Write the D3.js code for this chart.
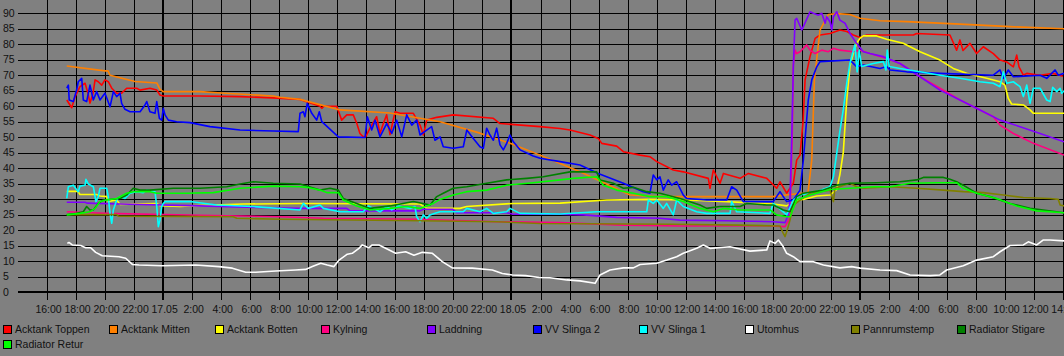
<!DOCTYPE html>
<html>
<head>
<meta charset="utf-8">
<script src="https://cdn.jsdelivr.net/npm/d3@7"></script>
<style>
  html, body { margin: 0; padding: 0; background: #808080; }
  svg { display: block; }
  text { font-family: "Liberation Sans", Arial, sans-serif; font-size: 10.5px; fill: #111; }
</style>
</head>
<body>
<svg id="chart" width="1064" height="356"></svg>
<script>
// ---- Data (time = hours since 16.05 14:00, value = °C) ----
const seriesNames = ["Acktank Toppen", "Acktank Mitten", "Acktank Botten", "Kylning", "Laddning",
  "VV Slinga 2", "VV Slinga 1", "Utomhus", "Pannrumstemp", "Radiator Stigare", "Radiator Retur"];
const seriesColors = ["#ff0000", "#ff8000", "#ffff00", "#ff0080", "#8000ff",
  "#0000ff", "#00ffff", "#ffffff", "#808000", "#008000", "#00ff00"];

const yTicks = [0, 5, 10, 15, 20, 25, 30, 35, 40, 45, 50, 55, 60, 65, 70, 75, 80, 85, 90];
const xTickHours = d3.range(2, 73, 2);
const dayLabels = ["17.05", "18.05", "19.05"];
const startHourOfDay = 14;

const acktankToppen = [[3.36,62],[3.70,59.5],[3.93,63],[4.27,66.3],[4.62,67.4],[4.82,64.2],[4.96,61],[5.17,64.2],[5.31,68.5],[5.53,67.9],[5.77,66.8],[5.99,68.5],[6.22,67.9],[6.46,65.8],[6.80,64.2],[7.14,64.2],[7.49,65.8],[8.18,65.8],[8.41,65.2],[9.09,65.8],[9.56,65.2],[9.78,63.6],[10.01,63.3],[12.54,63.3],[15.30,63.1],[17.57,62.7],[19.43,62.2],[20.81,60],[20.93,59.3],[21.08,60],[21.96,60],[22.30,55.5],[22.65,57.2],[23.10,57.2],[23.34,54.5],[23.56,51.2],[23.79,50.1],[23.98,50.3],[24.25,52.9],[24.71,56.6],[24.94,51.2],[25.17,54.4],[25.40,57.2],[25.63,50.8],[25.98,58.2],[26.32,57.7],[27.24,57.7],[27.70,53.9],[27.93,50.7],[28.16,55.5],[28.85,56.4],[29.99,57.2],[32.75,56.1],[33.21,54.4],[35.97,53.4],[37.35,52.8],[38.03,52.3],[39.41,50.7],[39.98,49.6],[40.22,48],[41.25,47.1],[41.71,45.3],[42.86,44.2],[43.54,43.7],[44.01,42.1],[45.15,39.4],[45.84,38.8],[47.56,36.7],[47.68,33.5],[47.91,39.4],[48.37,35.1],[48.60,38.3],[49.75,36.7],[50.32,38.3],[51.59,36.7],[52.27,33.5],[52.50,35.6],[52.96,31.9],[53.42,35.1],[53.65,42.6],[53.88,44.2],[54.09,55],[54.23,68.5],[54.57,76],[54.92,81.9],[55.26,83],[55.95,83.5],[56.63,84.6],[57.10,84.1],[57.55,83],[58.01,82.2],[58.48,83],[61.69,83],[61.92,83.5],[64.21,83],[64.67,78.1],[64.90,81.4],[65.11,78],[65.59,80.3],[66.05,77],[66.51,79.2],[67.20,77],[67.66,74.9],[68.12,74.3],[68.58,72.7],[68.81,76.5],[68.97,72.7],[69.27,70],[69.50,70.6],[70.42,70],[71.33,70.6],[72.0,69.7]];

const acktankMitten = [[3.36,73],[5.99,71.4],[6.20,71.4],[6.34,70],[8.06,68],[9.56,67.5],[9.78,65.5],[9.99,64.7],[12.54,64.7],[14.26,64.2],[17.57,63.3],[18.05,62.9],[19.43,62.2],[22.19,58.8],[25.63,57.8],[29.08,55],[31.83,51.3],[33.90,48],[35.97,44.2],[37.35,41.5],[38.72,38.8],[39.96,36.2],[42.17,31.3],[44.03,30.8],[52.02,30.8],[53.19,31.5],[54.43,32],[54.69,42.6],[54.87,68.5],[55.26,84.6],[55.83,89.6],[56.43,89.9],[57.32,89.6],[58.01,88.4],[59.39,87.6],[61.23,87.3],[64.90,86.5],[68.35,85.7],[72.07,85]];

const acktankBotten = [[3.36,32.5],[4.13,32.5],[4.27,31.5],[5.42,31.5],[5.65,31],[6.11,30.8],[6.22,29.2],[6.80,29.7],[7.03,28.3],[9.56,28.6],[9.78,27.9],[11.16,27.6],[11.85,27.8],[15.52,28.4],[19.43,28.6],[27.70,28.4],[28.16,27],[30.45,27],[30.92,27.6],[34.13,28.6],[37.35,28.7],[40.56,29.7],[43.54,29.9],[46.07,29.7],[48.83,29.2],[52.04,28.4],[52.96,27.8],[53.65,29.7],[54.11,29.9],[55.03,31],[55.95,31.3],[56.41,33.1],[56.63,38],[56.86,45],[57.10,62],[57.32,72.8],[57.55,77],[57.78,80.3],[58.01,81.9],[58.24,82.7],[59.16,82.7],[59.85,81.6],[60.99,80.3],[62.15,77.6],[63.52,74.9],[64.44,72.2],[65.36,70.6],[66.74,69],[67.66,67.9],[68.00,66.8],[68.23,62.5],[68.46,60.7],[69.27,60.4],[69.73,58.8],[69.96,57.7],[72.07,57.7]];

const kylning = [[3.36,25.9],[4.96,25.6],[6.11,25.4],[12.54,24.8],[18.05,24.3],[21.04,23.8],[27.70,23.5],[32.98,22.7],[37.35,22.4],[41.71,21.6],[45.61,21.3],[51.59,21.4],[52.85,21.1],[53.19,24],[53.35,51.8],[53.42,73.3],[53.54,78.1],[53.65,77],[53.88,77.6],[54.34,79.8],[54.57,78.1],[54.92,77],[55.38,78.1],[55.83,77.6],[56.18,78.7],[56.63,78.1],[57.55,77.6],[58.01,78.1],[58.70,77],[59.85,75.4],[60.77,73.8],[62.15,69.5],[63.52,65.8],[64.90,62],[66.28,58.8],[67.20,56.6],[67.66,53.9],[68.58,51.2],[69.96,48],[72.07,44.2]];

const laddning = [[3.36,29],[4.62,29],[4.75,28.7],[7.03,28.4],[11.85,27.9],[17.36,27.2],[19.43,27],[22.65,27],[22.88,26.2],[27.70,26.2],[27.93,26.7],[29.97,26.7],[30.22,25.6],[33.67,25.6],[34.13,25.1],[37.35,25.1],[38.95,24.9],[41.25,24.1],[44.23,23.8],[45.61,23.2],[48.83,23],[52.04,22.7],[52.85,22.4],[53.08,25],[53.19,30],[53.31,50],[53.42,72.7],[53.54,87.8],[53.65,88.4],[54.00,84.6],[54.11,85.7],[54.57,90.5],[54.80,90],[55.15,89.4],[55.38,90],[55.61,86.8],[55.72,88.9],[55.95,87.2],[56.07,84.6],[56.18,88.9],[56.41,90.5],[56.63,87.8],[56.98,86.8],[57.32,83.5],[57.78,80.3],[58.24,77.6],[58.70,77],[59.62,76],[60.77,73.8],[62.15,69.5],[63.52,65.2],[64.90,62],[66.28,58.8],[67.66,55.5],[69.04,53.4],[70.42,51.2],[72.07,48.5]];

const vvSlinga2 = [[3.36,65.8],[3.47,66.8],[3.53,62],[3.81,61.5],[4.04,65.2],[4.15,67.9],[4.39,69],[4.50,62],[4.73,61.5],[4.96,66.8],[5.19,62],[5.42,64.7],[5.65,62],[5.99,64.2],[6.34,59.8],[6.57,64.7],[6.80,63.1],[7.03,64.2],[7.14,60.9],[7.37,59],[7.72,58.2],[8.41,58.2],[8.75,60.4],[8.87,61.5],[9.09,58.2],[9.44,57.7],[9.56,61.5],[9.74,56.1],[9.90,55.5],[10.01,59.3],[10.13,57.2],[10.36,55.5],[10.93,55],[11.85,54.7],[13.23,53.4],[15.30,52.3],[17.59,52],[19.31,51.8],[19.43,57.7],[19.66,58.2],[19.77,56.6],[19.93,60.9],[20.24,57.7],[20.58,55.5],[20.76,58.2],[20.93,55],[22.07,50.1],[23.91,49.9],[24.07,56.6],[24.37,52.3],[24.60,55.5],[24.94,50.1],[25.40,54.4],[25.75,51.2],[26.09,55.5],[26.44,50.1],[26.78,57.2],[27.13,53.9],[27.47,55.5],[27.70,50.7],[28.16,52.3],[28.50,53.4],[28.73,49],[29.08,50.1],[29.30,46.9],[29.99,46.4],[30.68,46.9],[30.92,52.3],[31.37,49.6],[31.83,46.9],[32.06,46.4],[32.29,52.9],[32.52,50.7],[32.75,49],[32.98,52.9],[33.21,47.5],[33.44,45.9],[33.67,48],[33.90,50.7],[34.13,48.5],[34.59,45.9],[35.50,43.9],[35.97,43.2],[37.35,42.1],[38.72,41],[39.98,38.3],[41.71,35.1],[43.08,32.4],[43.54,31.9],[43.77,37.8],[44.01,36.2],[44.23,37.2],[44.46,32.9],[44.80,36.2],[45.04,34.5],[45.38,35.6],[45.84,31.3],[46.07,30.2],[47.45,29.7],[48.83,29.7],[49.17,34],[49.52,32.9],[49.97,29.2],[52.04,29.2],[52.50,32.4],[52.96,29.2],[53.42,29.7],[53.88,32.9],[54.11,42.6],[54.45,62],[54.69,68.5],[55.03,72.7],[55.26,74.4],[57.32,74.9],[57.78,72.8],[58.24,73.3],[59.39,72.2],[59.85,72.8],[60.08,71.7],[61.23,71.1],[63.52,70.6],[67.20,70],[67.66,71.7],[67.89,69],[68.23,71.7],[68.58,69.5],[70.42,70],[70.88,69],[71.45,71.7],[71.68,70],[72.07,70.6]];

const vvSlinga1 = [[3.36,30.2],[3.47,34],[3.81,34.5],[4.15,32.4],[4.27,34.2],[4.62,34.5],[4.68,36.4],[4.84,34.9],[5.19,34],[5.37,29.2],[5.53,30.8],[5.65,33.5],[6.11,33.5],[6.22,30.8],[6.34,25.4],[6.46,22.2],[6.57,26.5],[6.80,29.7],[7.03,30.8],[7.37,30.2],[7.72,31.9],[8.18,32.4],[8.63,32.1],[8.87,32.9],[9.44,32.4],[9.56,27.6],[9.67,21.1],[9.78,23.2],[9.90,27.6],[10.01,28.6],[10.13,29.2],[11.85,29.2],[13.69,28.1],[16.21,27.6],[19.43,26.5],[19.66,28.6],[20.00,27],[20.81,28.1],[21.04,27],[22.19,25.9],[23.79,25.9],[24.14,27.8],[24.48,27],[24.94,25.9],[25.40,27.6],[25.75,26.5],[26.20,27.8],[27.01,27],[27.35,27.6],[27.47,24.3],[27.70,22.7],[27.93,24.9],[28.16,23.8],[28.39,24.9],[28.73,25.4],[29.08,25.9],[30.68,25.9],[30.92,27],[31.83,25.9],[32.29,27],[32.75,25.4],[33.67,25.9],[33.90,27],[34.59,25.4],[37.35,25.2],[39.87,25.9],[43.32,25.9],[43.43,29.7],[43.77,28.6],[44.01,29.7],[44.46,27],[44.69,28.6],[45.15,24.9],[45.38,29.7],[45.84,27.6],[46.76,25.9],[47.45,25.4],[49.06,25.4],[49.17,29.2],[49.52,25.9],[51.81,25.4],[52.04,28.6],[52.96,24.9],[53.42,29.7],[53.88,31.3],[55.03,32.4],[55.95,34],[56.18,37.2],[56.41,44.8],[56.63,52],[56.86,58.8],[57.10,67.4],[57.32,73.8],[57.66,79.8],[57.82,71.1],[57.96,78.1],[58.13,72.8],[58.93,73.8],[59.62,74.4],[59.80,71.7],[59.89,78.1],[60.03,72.8],[60.77,72.2],[62.15,71.1],[63.52,70],[64.90,69],[66.28,67.9],[67.20,67.4],[67.66,66.3],[67.89,71.1],[68.12,67.4],[68.58,67.9],[69.04,66.3],[69.27,63.1],[69.50,66.8],[69.73,60.9],[69.96,65.8],[70.42,65.8],[70.88,62],[71.11,61.5],[71.29,66.1],[71.57,64.7],[71.80,65.8],[71.91,64.2],[72.07,65]];

const utomhus = [[3.40,15.7],[3.51,16],[3.74,15.2],[4.32,15],[4.66,14.3],[5.01,14.3],[5.35,12.8],[5.81,11.7],[6.96,11.4],[7.42,10.9],[7.88,8.9],[8.34,8.7],[9.94,8.5],[12.24,8.7],[13.85,8.2],[14.77,7.7],[15.69,6.4],[16.38,6.4],[17.76,6.8],[19.13,7.1],[19.82,7.3],[20.28,8.2],[20.86,9.3],[21.31,8.7],[21.77,8.2],[22.12,10.3],[22.69,12.2],[23.03,12.5],[23.49,14.1],[23.72,15.2],[24.18,14.3],[24.41,15.2],[24.87,15.2],[25.33,14.1],[26.02,12.5],[26.71,13],[27.28,11.9],[27.86,12.8],[28.55,12.5],[29.23,9.8],[29.92,7.8],[31.30,7.7],[32.68,7.1],[33.37,6],[34.06,5.5],[34.98,5.3],[35.90,4.7],[36.65,4.6],[37.81,3.9],[38.72,3.6],[39.76,2.8],[40.10,5.5],[40.79,7.1],[41.71,7.8],[42.40,7.8],[42.86,8.9],[44.01,9.3],[44.70,10.3],[45.38,11.4],[45.84,12.5],[46.76,14.1],[47.22,15.2],[47.68,14.1],[49.06,14.6],[49.75,13.9],[50.43,13.2],[51.59,13.6],[51.81,16.5],[52.16,15.7],[52.39,16.8],[52.73,14.6],[52.96,12.5],[53.42,11.4],[53.88,9.8],[54.80,9.8],[55.49,8.7],[56.63,7.8],[57.44,8.2],[58.01,7.7],[59.39,7.1],[60.54,6.9],[61.46,5.5],[62.84,5.3],[63.52,5.5],[63.98,7.1],[65.13,8.5],[66.05,10.3],[67.20,11.4],[67.66,13],[68.35,15],[69.27,15.2],[69.61,16.2],[70.19,15.2],[70.65,16.8],[71.11,16.8],[72.07,16.5]];

const pannrumstemp = [[3.36,25],[6.80,25],[6.91,24.5],[14.83,24.3],[15.07,23.8],[18.05,23.5],[27.70,23],[32.98,22.7],[35.97,22.1],[45.15,21.9],[49.75,21.6],[52.50,21.3],[52.73,18.9],[52.85,17.9],[53.00,20],[53.19,23.2],[53.42,28.1],[54.57,31.9],[55.95,32.9],[56.18,29.2],[56.29,33.5],[57.32,35.1],[57.78,34],[58.24,33.5],[60.08,34],[61.92,33.5],[63.76,32.9],[65.13,32.4],[66.51,32.1],[67.89,31.3],[69.27,30.5],[71.11,30.2],[71.68,29.9],[71.80,28.1],[72.07,27.8]];

const radiatorStigare = [[3.36,24.9],[4.04,25.4],[4.50,25.9],[4.73,27.6],[4.96,26.5],[5.19,26.5],[5.53,28.6],[5.88,29.7],[7.03,30.2],[7.49,31.3],[7.94,33.5],[8.41,32.9],[9.09,32.9],[10.70,33.5],[12.54,33.5],[14.38,34],[15.30,34.9],[16.21,35.6],[17.59,35.1],[19.43,34.9],[19.89,34.2],[20.81,32.9],[21.50,33.5],[22.07,32.9],[22.41,30.2],[23.34,28.6],[24.25,27],[25.63,27.8],[27.24,29.2],[28.39,28.1],[28.85,30.8],[29.30,31.9],[29.99,33.5],[30.92,34],[32.29,35.1],[33.67,36.2],[35.05,36.7],[36.19,37.2],[38.03,38.8],[39.87,38.8],[40.10,36.2],[41.02,35.1],[41.71,33.5],[42.40,33.8],[43.32,32.4],[44.23,31.9],[45.61,30.2],[46.99,28.1],[47.45,27],[48.37,27.6],[49.75,27.6],[50.21,28.6],[51.59,28.1],[52.04,28.1],[52.73,26.5],[53.19,25.9],[53.65,30.8],[54.11,31.9],[55.49,32.9],[56.41,34.5],[57.32,35.1],[59.16,35.3],[60.77,35.6],[61.92,36.2],[62.38,37],[63.76,37],[64.21,36.4],[64.67,35.6],[65.13,34.5],[66.05,31.9],[66.97,30.8],[68.35,28.6],[69.73,27],[72.07,25.6]];

const radiatorRetur = [[3.36,24.9],[4.27,25.4],[4.96,25.9],[5.31,27],[5.65,29.2],[6.11,29.7],[6.80,30.2],[7.49,31.9],[7.94,32.4],[9.09,32.4],[9.56,31.9],[11.62,31.9],[13.46,32.1],[15.30,33.5],[17.59,34.2],[19.43,34],[19.89,33.8],[20.81,32.9],[21.27,32.1],[22.07,32.1],[22.41,29.7],[23.34,27.8],[24.25,26.5],[25.63,27],[26.78,27.6],[27.70,27],[28.61,28.6],[29.08,29.9],[29.99,31.3],[30.92,32.4],[32.29,32.9],[33.67,34.5],[35.50,35.3],[37.35,36.2],[38.26,36.7],[39.87,37.2],[40.33,34.5],[41.25,32.9],[42.40,31.9],[43.54,30.8],[44.69,30.8],[45.84,29.2],[46.99,27],[47.91,25.9],[48.60,27],[49.75,26.5],[51.81,26.5],[52.27,24.9],[52.96,24.3],[53.19,24.3],[53.65,29.7],[54.57,31.3],[55.95,33.1],[57.32,33.5],[58.93,34],[60.08,34],[61.46,35.1],[63.29,35.3],[64.67,35.3],[65.13,33.5],[66.05,31.9],[67.43,30.2],[68.81,27.8],[70.19,26.2],[72.07,25.6]];

const seriesData = [acktankToppen, acktankMitten, acktankBotten, kylning, laddning,
  vvSlinga2, vvSlinga1, utomhus, pannrumstemp, radiatorStigare, radiatorRetur];

// ---- Drawing ----
const svg = d3.select("#chart");
const x = d3.scaleLinear().domain([0, 72]).range([18, 1063]);
const y = d3.scaleLinear().domain([0, 90]).range([292, 13.3]);
const plotTop = 0, plotRight = 1064;

function isMidnight(h) { return (startHourOfDay + h) % 24 === 0; }
function tickLabel(h) {
  const hod = (startHourOfDay + h) % 24;
  if (hod === 0) return dayLabels[Math.round((h - (24 - startHourOfDay)) / 24)];
  return hod + ":00";
}

const grid = svg.append("g").attr("shape-rendering", "crispEdges");
// horizontal gridlines
grid.selectAll("line.h").data(yTicks.filter(v => v > 0)).join("line")
  .attr("x1", x(0)).attr("x2", plotRight)
  .attr("y1", d => Math.round(y(d)) + 0.5).attr("y2", d => Math.round(y(d)) + 0.5)
  .attr("stroke", "#000").attr("stroke-width", 1);
// vertical gridlines
grid.selectAll("line.v").data(xTickHours).join("line")
  .attr("x1", d => Math.round(x(d)) + (isMidnight(d) ? 0 : 0.5))
  .attr("x2", d => Math.round(x(d)) + (isMidnight(d) ? 0 : 0.5))
  .attr("y1", plotTop).attr("y2", y(0))
  .attr("stroke", "#000").attr("stroke-width", d => isMidnight(d) ? 2 : 1);

// series lines
const line = d3.line().x(d => x(d[0])).y(d => y(d[1]));
svg.append("g").selectAll("path").data(seriesData).join("path")
  .attr("d", d => line(d))
  .attr("fill", "none")
  .attr("stroke", (d, i) => seriesColors[i])
  .attr("stroke-width", 1.6)
  .attr("stroke-linejoin", "round");

// x axis
const xAxis = svg.append("g").attr("shape-rendering", "crispEdges");
xAxis.append("line").attr("x1", x(0)).attr("x2", plotRight)
  .attr("y1", Math.round(y(0))).attr("y2", Math.round(y(0)))
  .attr("stroke", "#000").attr("stroke-width", 2);
xAxis.selectAll("line.t").data(xTickHours).join("line")
  .attr("x1", d => Math.round(x(d)) + (isMidnight(d) ? 0 : 0.5))
  .attr("x2", d => Math.round(x(d)) + (isMidnight(d) ? 0 : 0.5))
  .attr("y1", y(0)).attr("y2", y(0) + 8)
  .attr("stroke", "#000").attr("stroke-width", d => isMidnight(d) ? 2 : 1);
svg.append("g").selectAll("text").data(xTickHours).join("text")
  .attr("x", d => x(d) + 1.5).attr("y", 313)
  .attr("text-anchor", "middle")
  .text(d => tickLabel(d));

// y axis labels
svg.append("g").selectAll("text").data(yTicks).join("text")
  .attr("x", 3).attr("y", d => y(d)).attr("dy", "0.35em")
  .text(d => d);

// legend
const legend = svg.append("g");
const items = legend.selectAll("g").data(seriesNames).join("g")
  .attr("transform", (d, i) => `translate(${3 + (i % 10) * 106},${325 + Math.floor(i / 10) * 14.5})`);
items.append("rect").attr("x", 0.5).attr("y", 0.5).attr("width", 8).attr("height", 8)
  .attr("fill", (d, i) => seriesColors[i]).attr("stroke", "#000").attr("stroke-width", 1)
  .attr("shape-rendering", "crispEdges");
items.append("text").attr("x", 12).attr("y", 8).text(d => d);
</script>
</body>
</html>
